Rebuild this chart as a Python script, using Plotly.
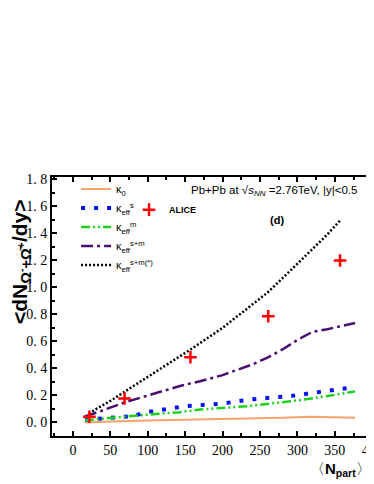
import plotly.graph_objects as go

# kappa curves
npart_k0 = [16, 50, 100, 170, 232, 280, 317, 340, 377]
k0 = [0.0, 0.008, 0.014, 0.022, 0.025, 0.035, 0.042, 0.038, 0.035]

npart_s = [16, 27, 50, 80, 98, 115, 133, 150, 200, 237, 290, 340, 375]
keff_s = [0.02, 0.027, 0.035, 0.046, 0.076, 0.09, 0.105, 0.12, 0.14, 0.17, 0.195, 0.23, 0.26]

npart_m = [16, 40, 70, 100, 143, 170, 232, 303, 340, 377]
keff_m = [0.017, 0.03, 0.045, 0.058, 0.076, 0.096, 0.12, 0.165, 0.195, 0.23]

npart_sm = [16, 30, 70, 100, 143, 170, 200, 240, 260, 280, 300, 320, 340, 377]
keff_sm = [0.045, 0.07, 0.15, 0.20, 0.27, 0.305, 0.35, 0.43, 0.48, 0.54, 0.61, 0.67, 0.69, 0.735]

npart_smx = [18, 28, 50, 70, 100, 130, 160, 200, 240, 260, 290, 320, 340, 358]
keff_smx = [0.04, 0.09, 0.16, 0.23, 0.34, 0.44, 0.55, 0.70, 0.87, 0.96, 1.12, 1.28, 1.39, 1.50]

# ALICE data
alice_npart = [22, 69, 157, 261, 357]
alice_y = [0.042, 0.177, 0.482, 0.785, 1.198]

y_ticks = [0.0, 0.2, 0.4, 0.6, 0.8, 1.0, 1.2, 1.4, 1.6, 1.8]
y_ticktext = ["0. 0", "0. 2", "0. 4", "0. 6", "0. 8", "1. 0", "1. 2", "1. 4", "1. 6", "1. 8"]
x_ticks = [0, 50, 100, 150, 200, 250, 300, 350, 400]

fig = go.Figure()
fig.add_trace(go.Scatter(x=npart_k0, y=k0, mode="lines", name="κ<sub>0</sub>",
                         line=dict(color="#f4a36a", width=2)))
fig.add_trace(go.Scatter(x=npart_s, y=keff_s, mode="lines", name="κ<sub>eff</sub><sup>s</sup>",
                         line=dict(color="#0a14f0", width=4, dash="4px,9px")))
fig.add_trace(go.Scatter(x=npart_m, y=keff_m, mode="lines", name="κ<sub>eff</sub><sup>m</sup>",
                         line=dict(color="#19d219", width=2.5, dash="9px,3px,2px,3px,2px,3px")))
fig.add_trace(go.Scatter(x=npart_sm, y=keff_sm, mode="lines", name="κ<sub>eff</sub><sup>s+m</sup>",
                         line=dict(color="#4a1070", width=2.5, dash="12px,4px,3px,4px")))
fig.add_trace(go.Scatter(x=npart_smx, y=keff_smx, mode="lines", name="κ<sub>eff</sub><sup>s+m(*)</sup>",
                         line=dict(color="black", width=2.5, dash="2px,2px")))
fig.add_trace(go.Scatter(x=alice_npart, y=alice_y, mode="markers", name="<b>ALICE</b>",
                         legend="legend2",
                         marker=dict(symbol="cross-thin", size=9, color="red",
                                     line=dict(color="red", width=2.5))))

axis_common = dict(showgrid=False, zeroline=False, showline=True, linecolor="black",
                   linewidth=2, mirror="allticks", ticks="inside", ticklen=5,
                   tickcolor="black", tickwidth=1.5, ticklabeloverflow="allow",
                   automargin=False)

fig.update_xaxes(range=[-28, 401], tickvals=x_ticks,
                 tickfont=dict(family="Liberation Serif", size=14, color="black"),
                 minor=dict(ticks="inside", ticklen=3, dtick=25, tickcolor="black"),
                 **axis_common)
fig.update_yaxes(range=[-0.1, 1.815], tickvals=y_ticks, ticktext=y_ticktext,
                 tickfont=dict(family="Liberation Serif", size=14, color="black"),
                 minor=dict(ticks="inside", ticklen=3, dtick=0.1, tickcolor="black"),
                 **axis_common)

# page body has an 8px margin, so the figure is drawn 8px smaller
fig.update_layout(
    width=366, height=476,
    margin=dict(l=44, r=1, t=169, b=48, autoexpand=False),
    plot_bgcolor="white", paper_bgcolor="white",
    showlegend=True,
    legend=dict(x=0.075, y=1.01, xanchor="left", yanchor="top",
                bgcolor="rgba(0,0,0,0)", font=dict(family="Liberation Sans", size=11, color="black"),
                itemwidth=30, tracegroupgap=0),
    legend2=dict(x=0.24, y=0.93, xanchor="left", yanchor="top",
                 bgcolor="rgba(0,0,0,0)", font=dict(family="Liberation Sans", size=9, color="black"),
                 itemwidth=30),
    annotations=[
        dict(text="Pb+Pb at √<i>s</i><sub><i>NN</i></sub> =2.76TeV, |y|&lt;0.5",
             x=0.955, y=0.945, xref="paper", yref="paper", showarrow=False,
             xanchor="right", yanchor="middle",
             font=dict(family="Liberation Sans", size=11.5, color="black")),
        dict(text="<b>(d)</b>", x=0.729, y=0.865, xref="paper", yref="paper", showarrow=False,
             font=dict(family="Liberation Sans", size=11, color="black")),
        dict(text="<b>&lt;dN<sub>Ω<sup>-</sup>+Ω̄<sup>+</sup></sub>/dy&gt;</b>",
             x=-0.095, y=0.67, xref="paper", yref="paper", showarrow=False, textangle=-90,
             xanchor="center", yanchor="middle",
             font=dict(family="Liberation Sans", size=21, color="black")),
        dict(text="〈<b>N<sub>part</sub></b>〉", x=1.0, y=-0.13, xref="paper", yref="paper",
             showarrow=False, xanchor="right", yanchor="middle",
             font=dict(family="Liberation Sans", size=15, color="black")),
    ],
)

fig.write_html("out.html")
